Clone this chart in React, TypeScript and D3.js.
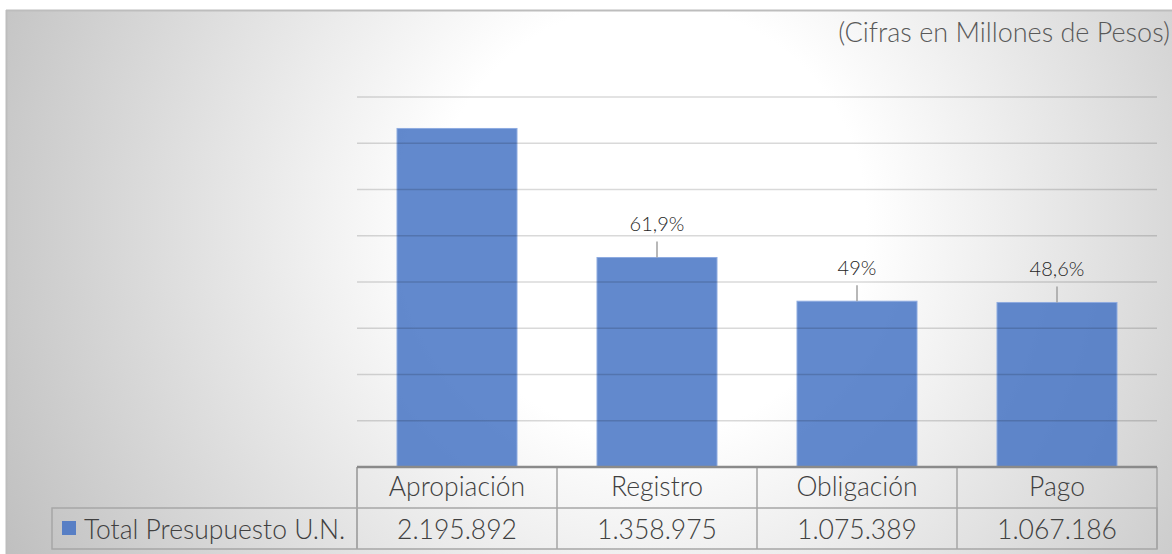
import React from "react";
import * as d3 from "d3";

const categories = ["Apropiación", "Registro", "Obligación", "Pago"];
const values = [2195892, 1358975, 1075389, 1067186];
const pctLabels = [null, "61,9%", "49%", "48,6%"];
const seriesName = "Total Presupuesto U.N.";
const yTicks = [0, 300000, 600000, 900000, 1200000, 1500000, 1800000, 2100000, 2400000];

const W = 1172;
const H = 554;
const FONT = "Lato, sans-serif";

const fmt = d3.formatLocale({ decimal: ",", thousands: ".", grouping: [3], currency: ["$", ""] }).format(",d");

const App = () => {
  const x = d3.scaleBand().domain(categories).range([357, 1157]).paddingInner(0.4).paddingOuter(0.2);
  const y = d3.scaleLinear().domain([0, 2400000]).range([467, 97]);
  const step = x.step();
  const left = 357;
  const rowTop = 467;
  const rowMid = 508;
  const rowBot = 549;

  return (
    <div style={{ position: "absolute", left: 0, top: 0 }}>
      <svg width={W} height={H} style={{ display: "block" }}>
        <defs>
          <radialGradient id="bg" gradientUnits="userSpaceOnUse" cx={650} cy={220} r={720}>
            <stop offset="0" stopColor="#ffffff" />
            <stop offset="0.3" stopColor="#ffffff" />
            <stop offset="1" stopColor="#c0c0c0" />
          </radialGradient>
        </defs>
        <rect x={0} y={0} width={W} height={H} fill="#fff" />
        <rect x={6} y={10} width={W - 6} height={H - 10} fill="url(#bg)" />
        <line x1={6} x2={W} y1={10.5} y2={10.5} stroke="#bdbdbd" strokeWidth={2} />
        <line x1={6.5} x2={6.5} y1={10} y2={H} stroke="#bdbdbd" strokeWidth={2} />

        <text x={1170} y={42} textAnchor="end" fontFamily={FONT} fontWeight={300} fontSize={27} fill="#595959">
          (Cifras en Millones de Pesos)
        </text>

        {categories.map((c, i) => (
          <rect
            key={c}
            x={x(c)}
            y={y(values[i])}
            width={x.bandwidth()}
            height={y(0) - y(values[i])}
            fill="#4472c4"
            fillOpacity={0.84}
            stroke="#8eabe0"
            strokeWidth={1}
          />
        ))}

        {yTicks.slice(1).map((t) => (
          <line key={t} x1={left} x2={1157} y1={y(t)} y2={y(t)} stroke="rgba(0,0,0,0.15)" strokeWidth={1.5} />
        ))}

        {categories.map((c, i) =>
          pctLabels[i] ? (
            <g key={c}>
              <line
                x1={x(c)! + x.bandwidth() / 2}
                x2={x(c)! + x.bandwidth() / 2}
                y1={y(values[i]) - 16}
                y2={y(values[i])}
                stroke="#a0a0a0"
                strokeWidth={1.5}
              />
              <text
                x={x(c)! + x.bandwidth() / 2}
                y={y(values[i]) - 26}
                textAnchor="middle"
                fontFamily={FONT}
                fontWeight={300}
                fontSize={20}
                fill="#262626"
              >
                {pctLabels[i]}
              </text>
            </g>
          ) : null
        )}

        {/* data table */}
        <g fill="none" stroke="#a6a6a6" strokeWidth={1.5}>
          <rect x={52} y={rowMid} width={1157 - 52} height={rowBot - rowMid} />
          <line x1={left} x2={left} y1={rowTop} y2={rowBot} />
          <line x1={1157} x2={1157} y1={rowTop} y2={rowBot} />
          {categories.map((c, i) => (
            <line key={c} x1={left + step * i} x2={left + step * i} y1={rowTop} y2={rowBot} />
          ))}
        </g>
        <line x1={left} x2={1157} y1={rowTop} y2={rowTop} stroke="#8a8a8a" strokeWidth={2.5} />

        {categories.map((c, i) => (
          <g key={c} fontFamily={FONT} fontWeight={300} fill="#404040" textAnchor="middle">
            <text x={left + step * (i + 0.5)} y={496} fontSize={26.5}>
              {c}
            </text>
            <text x={left + step * (i + 0.5)} y={539} fontSize={26.5}>
              {fmt(values[i])}
            </text>
          </g>
        ))}

        <rect x={62} y={521} width={14} height={14} fill="#4472c4" fillOpacity={0.85} />
        <text x={84} y={539} fontFamily={FONT} fontWeight={300} fontSize={26.5} fill="#404040">
          {seriesName}
        </text>
      </svg>
    </div>
  );
};

export default App;
